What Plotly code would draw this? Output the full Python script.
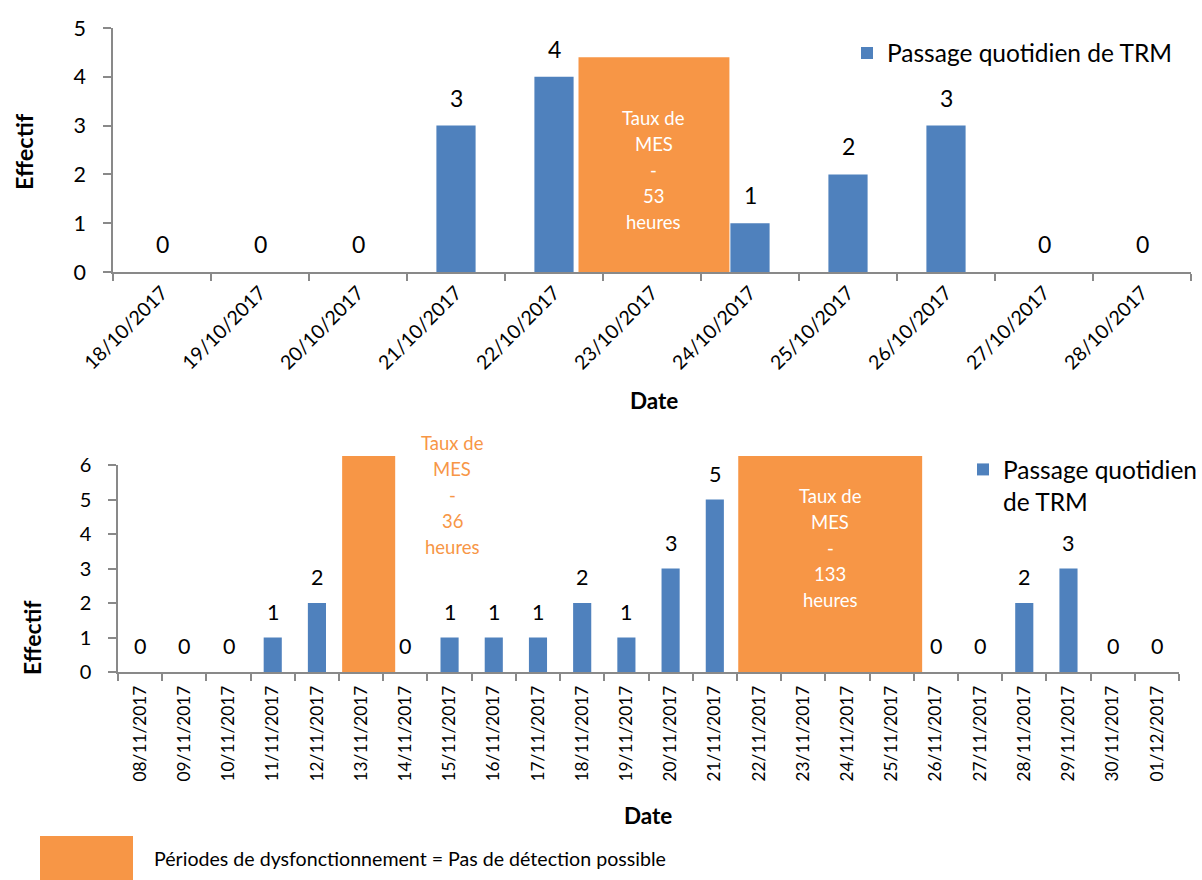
import plotly.graph_objects as go

# ---- data -------------------------------------------------------------
dates_oct = ["18/10/2017", "19/10/2017", "20/10/2017", "21/10/2017", "22/10/2017",
             "23/10/2017", "24/10/2017", "25/10/2017", "26/10/2017", "27/10/2017",
             "28/10/2017"]
counts_oct = [0, 0, 0, 3, 4, None, 1, 2, 3, 0, 0]

dates_nov = ["08/11/2017", "09/11/2017", "10/11/2017", "11/11/2017", "12/11/2017",
             "13/11/2017", "14/11/2017", "15/11/2017", "16/11/2017", "17/11/2017",
             "18/11/2017", "19/11/2017", "20/11/2017", "21/11/2017", "22/11/2017",
             "23/11/2017", "24/11/2017", "25/11/2017", "26/11/2017", "27/11/2017",
             "28/11/2017", "29/11/2017", "30/11/2017", "01/12/2017"]
counts_nov = [0, 0, 0, 1, 2, None, 0, 1, 1, 1, 2, 1, 3, 5, None, None, None, None,
              0, 0, 2, 3, 0, 0]

# malfunction periods: (start, end) in category units, height, hours
outage_oct = [(4.25, 5.79, 4.4, 53)]
outage_nov = [(4.57, 5.77, 6.26, 36), (13.53, 17.69, 6.26, 133)]

series_name = "Passage quotidien de TRM"
footer_text = "Périodes de dysfonctionnement = Pas de détection possible"

BLUE = "#4F81BD"
ORANGE = "#F79646"
AXIS = "#898989"
FONT = "Lato"

W, H = 1202, 880


def px(x):
    return x / W


def py(y):
    return 1 - y / H


fig = go.Figure()

fig.add_trace(go.Bar(x=dates_oct, y=counts_oct, name=series_name, marker_color=BLUE,
                     marker_line_width=0, width=0.4, xaxis="x", yaxis="y",
                     legend="legend"))
fig.add_trace(go.Bar(x=dates_nov, y=counts_nov, name="Passage quotidien<br>de TRM",
                     marker_color=BLUE, marker_line_width=0, width=0.41,
                     xaxis="x2", yaxis="y2", legend="legend2"))

annotations = []
shapes = []

# value labels above bars
for d, v in zip(dates_oct, counts_oct):
    if v is not None:
        annotations.append(dict(x=d, y=v, xref="x", yref="y", text=str(v),
                                showarrow=False, xanchor="center", yanchor="middle",
                                yshift=28, font=dict(size=23, color="black")))
for d, v in zip(dates_nov, counts_nov):
    if v is not None:
        annotations.append(dict(x=d, y=v, xref="x2", yref="y2", text=str(v),
                                showarrow=False, xanchor="center", yanchor="middle",
                                yshift=26, font=dict(size=21.5, color="black")))

# malfunction rectangles
for x0, x1, top, hrs in outage_oct:
    shapes.append(dict(type="rect", xref="x", yref="y", x0=x0, x1=x1, y0=0, y1=top,
                       fillcolor=ORANGE, line_width=0, layer="above"))
for x0, x1, top, hrs in outage_nov:
    shapes.append(dict(type="rect", xref="x2", yref="y2 domain", x0=x0, x1=x1,
                       y0=0, y1=top / 6, fillcolor=ORANGE, line_width=0, layer="above"))


def text_block(lines, xref, x, yref, y, color, size=18.5, step=26):
    n = len(lines)
    for i, t in enumerate(lines):
        annotations.append(dict(x=x, y=y, xref=xref, yref=yref, text=t, showarrow=False,
                                xanchor="center", yanchor="middle",
                                yshift=-(i - (n - 1) / 2) * step,
                                font=dict(size=size, color=color)))


# labels of the malfunction periods
x0, x1, top, hrs = outage_oct[0]
text_block(["Taux de", "MES", "-", str(hrs), "heures"], "x", (x0 + x1) / 2, "y", 2.09,
           "white")
x0, x1, top, hrs = outage_nov[0]
text_block(["Taux de", "MES", "-", str(hrs), "heures"], "x2", 7.06, "paper", py(495),
           ORANGE)
x0, x1, top, hrs = outage_nov[1]
text_block(["Taux de", "MES", "-", str(hrs), "heures"], "x2", (x0 + x1) / 2, "paper",
           py(548), "white")

# axis titles
for txt, x, y, ang, size in [("Effectif", 24, 152, -90, 23.5),
                             ("Effectif", 32, 638, -90, 23),
                             ("Date", 654, 400, 0, 22.5),
                             ("Date", 648, 815, 0, 22.5)]:
    annotations.append(dict(x=px(x), y=py(y), xref="paper", yref="paper", text=txt,
                            showarrow=False, textangle=ang, xanchor="center",
                            yanchor="middle",
                            font=dict(size=size, color="black", weight="bold")))

# footer key
shapes.append(dict(type="rect", xref="paper", yref="paper", x0=px(40), x1=px(133),
                   y0=py(880), y1=py(836), fillcolor=ORANGE, line_width=0))
annotations.append(dict(x=px(152), y=py(858), xref="paper", yref="paper",
                        text=footer_text, showarrow=False, xanchor="left",
                        yanchor="middle", font=dict(size=19.6, color="black")))

axis_common = dict(showline=True, linecolor=AXIS, linewidth=1.5, ticks="outside",
                   tickcolor=AXIS, tickwidth=1.5, showgrid=False, zeroline=False,
                   fixedrange=True, automargin=False)

fig.update_layout(
    template="none",
    width=W, height=H, margin=dict(l=0, r=0, t=0, b=0, autoexpand=False),
    paper_bgcolor="white", plot_bgcolor="white",
    font=dict(family=FONT, color="black"),
    barmode="overlay",
    xaxis=dict(domain=[px(113), px(1191)], anchor="y", type="category",
               tickson="boundaries", ticklen=7, tickangle=-45,
               tickfont=dict(size=19.5), **axis_common),
    yaxis=dict(domain=[py(272), py(28)], anchor="x", range=[0, 5], dtick=1,
               ticklen=8, tickfont=dict(size=21.5), ticklabelstandoff=13, **axis_common),
    xaxis2=dict(domain=[px(118), px(1179)], anchor="y2", type="category",
                tickson="boundaries", ticklen=7, tickangle=-90,
                tickfont=dict(size=17.3), ticklabelstandoff=5, **axis_common),
    yaxis2=dict(domain=[py(672), py(465)], anchor="x2", range=[0, 6], dtick=1,
                ticklen=8, tickfont=dict(size=20), ticklabelstandoff=13, **axis_common),
    legend=dict(x=px(847), y=py(53), xanchor="left", yanchor="middle",
                font=dict(size=24.5), bgcolor="rgba(0,0,0,0)"),
    legend2=dict(x=px(963), y=py(447), xanchor="left", yanchor="top",
                 font=dict(size=24.5), valign="top", bgcolor="rgba(0,0,0,0)"),
    showlegend=True,
    annotations=annotations,
    shapes=shapes,
)

fig.write_html("out.html", config={"displayModeBar": False})
